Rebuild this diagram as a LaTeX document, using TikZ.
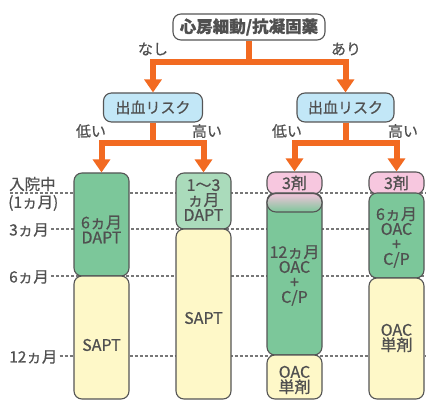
\documentclass[tikz,border=0pt]{standalone}
\usepackage{fontspec}
\setmainfont{Noto Sans CJK JP}[FakeBold=0.6]
\usetikzlibrary{arrows.meta}
\definecolor{org}{HTML}{F26A21}
\definecolor{edge}{HTML}{555555}
\definecolor{txt}{HTML}{505050}
\definecolor{bluef}{HTML}{C2E7F7}
\definecolor{dgreen}{HTML}{7CC79A}
\definecolor{lgreen}{HTML}{AADBBB}
\definecolor{yel}{HTML}{FEF8C8}
\definecolor{pinkf}{HTML}{F7C7DF}
\definecolor{guidec}{HTML}{777777}
\begin{document}
\begin{tikzpicture}[x=1pt,y=-1pt,
  box/.style={draw=edge, line width=1.1pt, rounded corners=8pt, inner sep=0pt, text=txt, align=center},
  colbox/.style={box, minimum width=55pt},
  coltext/.style={text=txt, align=center, inner sep=0pt, font=\fontsize{16}{15}\selectfont},
  lab/.style={text=txt, inner sep=0pt, font=\fontsize{15}{15}\selectfont},
  sidelab/.style={text=txt, inner sep=0pt, anchor=west, font=\fontsize{15.5}{15}\selectfont},
  guide/.style={draw=guidec, line width=1.1pt, dash pattern=on 3pt off 2pt},
  oarrow/.style={draw=org, line width=6pt, -{Triangle[width=17pt,length=13pt]}},
  oline/.style={draw=org, line width=6pt}
]
\useasboundingbox (0,0) rectangle (426,401);

% side labels
\node[sidelab] (l0) at (9,184) {入院中};
\node[sidelab] (l1) at (8,203) {(1ヵ月)};
\node[sidelab] (l3) at (9,230) {3ヵ月};
\node[sidelab] (l6) at (9,277) {6ヵ月};
\node[sidelab] (l12) at (9,357) {12ヵ月};
\coordinate (g0a) at (10,193);
\coordinate (g0b) at (426,193);
\coordinate (g3) at (426,229);
\coordinate (g6) at (426,276);
\coordinate (g12) at (426,356);
\draw[guide] (g0a) -- (g0b);
\draw[guide] ([xshift=2pt]l3.east |- g3) -- (g3);
\draw[guide] ([xshift=2pt]l6.east |- g6) -- (g6);
\draw[guide] ([xshift=2pt]l12.east |- g12) -- (g12);

% top
\node[box, fill=white, minimum width=152pt, minimum height=26pt, font=\bfseries\fontsize{16.5}{16}\selectfont] (top) at (249,27) {心房細動/抗凝固薬};
\node[box, fill=bluef, minimum width=99pt, minimum height=29pt, font=\fontsize{15}{15}\selectfont] (b1) at (153,107.5) {出血リスク};
\node[box, fill=bluef, minimum width=97pt, minimum height=29pt, font=\fontsize{15}{15}\selectfont] (b2) at (345.5,107.5) {出血リスク};

\node[lab] (nashi) at (153,49) {なし};
\node[lab] (ari) at (346,49) {あり};
\node[lab] (low1) at (91,131) {低い};
\node[lab] (high1) at (207,131) {高い};
\node[lab] (low2) at (287,131) {低い};
\node[lab] (high2) at (403,131) {高い};

% columns
\node[colbox, fill=dgreen, minimum height=103pt] (c1a) at (101.5,224.5) {};
\node[colbox, fill=yel, minimum height=123pt] (c1b) at (101.5,337.5) {};
\node[colbox, fill=lgreen, minimum height=56pt] (c2a) at (203.5,201) {};
\node[colbox, fill=yel, minimum height=170pt] (c2b) at (203.5,314) {};
\node[colbox, fill=pinkf, minimum height=22pt] (c3a) at (294.5,183) {};
\node[colbox, fill=dgreen, minimum height=162pt] (c3b) at (294.5,274) {};
\shade[top color=pinkf!95!gray, bottom color=dgreen, draw=edge, line width=1.1pt, rounded corners=9pt] (267,193.5) rectangle (322,212);
\node[colbox, fill=yel, minimum height=44pt] (c3c) at (294.5,377) {};
\node[colbox, fill=pinkf, minimum height=22pt] (c4a) at (396.5,183) {};
\node[colbox, fill=dgreen, minimum height=85pt] (c4b) at (396.5,235.5) {};
\node[colbox, fill=yel, minimum height=121pt] (c4c) at (396.5,338.5) {};

% column texts
\node[coltext] (t1a) at (101.5,229.5) {6ヵ月\\DAPT};
\node[coltext] (t1b) at (101.5,345) {SAPT};
\node[coltext] (t2a) at (203.5,200) {1〜3\\ヵ月\\DAPT};
\node[coltext] (t2b) at (203.5,318) {SAPT};
\node[coltext] (t3a) at (294.5,183) {3剤};
\node[coltext] (t3b) at (294.5,275.5) {12ヵ月\\OAC\\+\\C/P};
\node[coltext] (t3c) at (294.5,380) {OAC\\単剤};
\node[coltext] (t4a) at (396.5,183) {3剤};
\node[coltext] (t4b) at (396.5,237.5) {6ヵ月\\OAC\\+\\C/P};
\node[coltext] (t4c) at (396.5,338) {OAC\\単剤};

% orange connectors
\coordinate (j0) at (top.south |- 0,62);
\coordinate (j1) at (b1.south |- 0,143);
\coordinate (j2) at (b2.south |- 0,143);
\draw[oline] (top.south) -- (j0);
\draw[oarrow] ([xshift=0.1pt]j0) -| (b1.north);
\draw[oarrow] ([xshift=-0.1pt]j0) -| (b2.north);
\draw[oline] (b1.south) -- (j1);
\draw[oarrow] (j1) -| (c1a.north);
\draw[oarrow] (j1) -| (c2a.north);
\draw[oline] (b2.south) -- (j2);
\draw[oarrow] (j2) -| (c3a.north);
\draw[oarrow] (j2) -| (c4a.north);
\end{tikzpicture}
\end{document}
